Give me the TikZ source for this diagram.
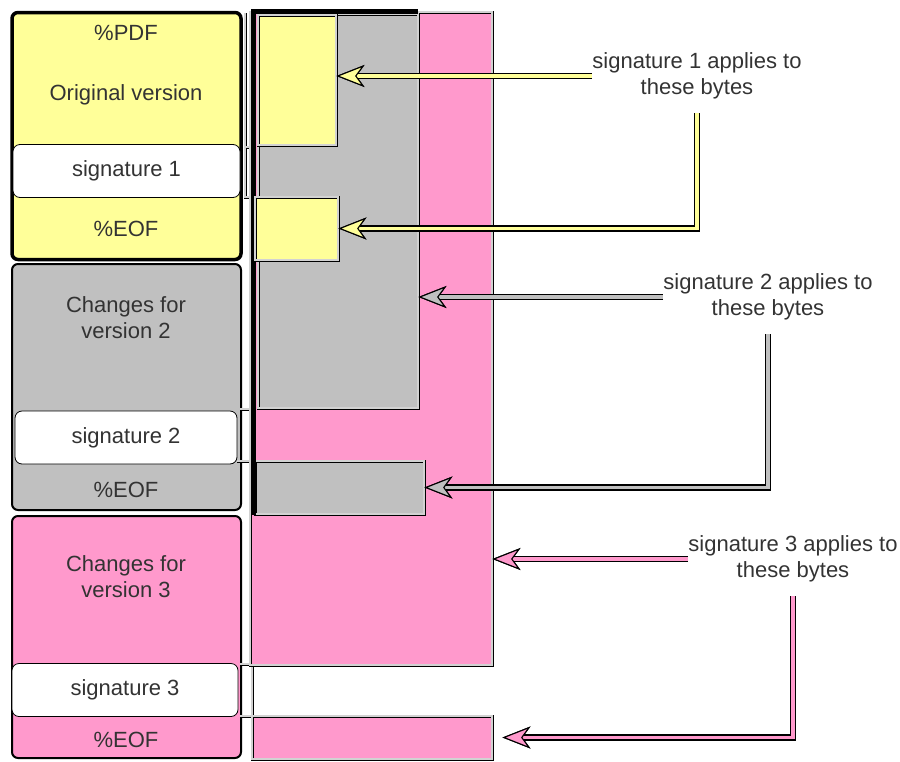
\documentclass[tikz,border=0pt]{standalone}
\usepackage{fontspec}
\setmainfont{Liberation Sans}
\usetikzlibrary{positioning,arrows.meta}
\definecolor{sigyellow}{HTML}{FFFF99}
\definecolor{siggrey}{HTML}{C0C0C0}
\definecolor{sigpink}{HTML}{FF99CC}
\definecolor{inktext}{HTML}{333333}

\begin{document}
\begin{tikzpicture}[
  x=1pt, y=-1pt,
  txt/.style={font=\fontsize{22}{26}\selectfont, text=inktext, align=center, inner sep=0pt},
  part/.style={draw, rounded corners=6pt, minimum width=229, inner sep=0pt},
  sigbox/.style={draw, line width=0.8pt, fill=white, rounded corners=7pt, minimum height=53, inner sep=0pt,
    font=\fontsize{22}{26}\selectfont, text=inktext},
  bytes/.style={draw=black, double=gray!35, double distance=1.2pt, line width=0.9pt, inner sep=0pt},
  sigarrow/.style={draw=#1, line width=3.6pt, preaction={draw=black, line width=6.6pt},
    -{Stealth[length=28pt, width=22pt, inset=8pt, color=black, fill=#1, line width=1.1pt]}}
]
\useasboundingbox (0,0) rectangle (900,761);

% file as it grows, version by version
\node[part, fill=sigyellow, line width=3.5pt, minimum height=247] (ver1) at (126.5,136) {};
\node[part, fill=siggrey, line width=2pt, minimum height=246] (ver2) at (126.5,387) {};
\node[part, fill=sigpink, line width=2pt, minimum height=242] (ver3) at (126.5,637) {};

\node[txt] (pdf) at (126,33) {\%PDF};
\node[txt] (orig) at (126,95) {Original version};
\node[sigbox, minimum width=227] (sig1) at (126.5,171) {signature 1};
\node[txt] (eof1) at (126,229) {\%EOF};

\node[txt] (chg2) at (126,318) {Changes for\\version 2};
\node[sigbox, minimum width=222] (sig2) at (126,437.5) {signature 2};
\node[txt] (eof2) at (126,490) {\%EOF};

\node[txt] (chg3) at (126,577) {Changes for\\version 3};
\node[sigbox, minimum width=226] (sig3) at (125,690) {signature 3};
\node[txt] (eof3) at (126,740) {\%EOF};

% byte ranges covered by each signature
\draw[bytes] (245,13) -- (245,147) -- (257,147) (245,147) -- (245,197) -- (257,197);
\draw[bytes] (240,409) -- (256,409) (237,461) -- (256,461);
\draw[bytes] (240,664) -- (252,664) -- (252,716) -- (240,716);
\node[bytes, fill=sigpink, minimum width=242, minimum height=653] (pink3) at (371,338.5) {};
\node[bytes, fill=sigpink, minimum width=240, minimum height=43] (pinkEOF3) at (372,737.5) {};
\node[bytes, fill=siggrey, minimum width=160, minimum height=394] (grey2) at (338,211) {};
\node[bytes, fill=siggrey, minimum width=169, minimum height=53] (greyEOF2) at (339.5,487.5) {};
\draw[line width=5pt] (253,515) -- (253,11) -- (418,11);
\node[bytes, fill=sigyellow, minimum width=78, minimum height=130] (yellow1) at (297,80) {};
\node[bytes, fill=sigyellow, minimum width=83, minimum height=63] (yellowEOF1) at (296.5,228.5) {};

% labels and arrows
\node[txt] (lab1) at (697,76) {signature 1 applies to\\these bytes};
\node[txt] (lab2) at (768,297) {signature 2 applies to\\these bytes};
\node[txt] (lab3) at (793,559) {signature 3 applies to\\these bytes};

\draw[sigarrow=sigyellow] (lab1.west) -- (lab1.west -| yellow1.east);
\draw[sigarrow=sigyellow] ([yshift=-14pt]lab1.south) |- (yellowEOF1.east);
\draw[sigarrow=siggrey] (lab2.west) -- (lab2.west -| grey2.east);
\draw[sigarrow=siggrey] ([yshift=-14pt]lab2.south) |- (greyEOF2.east);
\draw[sigarrow=sigpink] (lab3.west) -- (lab3.west -| pink3.east);
\draw[sigarrow=sigpink, shorten >=10pt] ([yshift=-14pt]lab3.south) |- (pinkEOF3.east);
\end{tikzpicture}
\end{document}
